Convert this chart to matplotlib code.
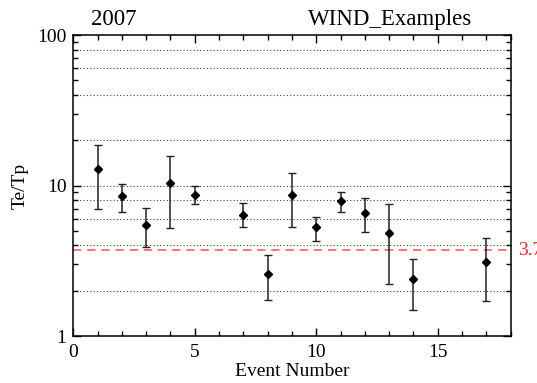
import matplotlib
matplotlib.use("Agg")
import matplotlib.pyplot as plt
from matplotlib.ticker import FixedLocator, NullFormatter, MultipleLocator

plt.rcParams['font.family'] = ['Liberation Serif', 'DejaVu Serif']

# Te/Tp по событиям: значение и границы погрешности
events = [1, 2, 3, 4, 5, 7, 8, 9, 10, 11, 12, 13, 14, 17]
ratio = [12.9, 8.5, 5.5, 10.4, 8.7, 6.4, 2.58, 8.7, 5.27, 7.9, 6.6, 4.86, 2.39, 3.12]
upper = [18.7, 10.3, 7.1, 15.7, 9.9, 7.6, 3.44, 12.1, 6.2, 9.1, 8.2, 7.5, 3.26, 4.5]
lower = [6.95, 6.7, 3.9, 5.2, 7.5, 5.3, 1.73, 5.3, 4.3, 6.7, 4.9, 2.2, 1.5, 1.7]

grid_levels = [2, 4, 6, 8, 10, 20, 40, 60, 80]
threshold = 3.7

fig = plt.figure(figsize=(5.37, 3.83), dpi=100)
ax = fig.add_axes([0.1365, 0.1227, 0.8145, 0.7859])

# пунктирная сетка на выбранных уровнях
for lvl in grid_levels:
    ax.axhline(lvl, color='#444444', linestyle=(0, (1, 2)), linewidth=0.8, zorder=1)

# пороговая линия и её подпись справа от оси
ax.axhline(threshold, color='#ff4040', linestyle=(0, (5, 3.5)), linewidth=1.2, alpha=0.85, zorder=2)
ax.text(18.3, threshold, f'{threshold:.1f}', color='#ff2020', fontsize=14,
        va='center', ha='left', clip_on=False)

yerr = [[r - lo for r, lo in zip(ratio, lower)], [up - r for r, up in zip(ratio, upper)]]
ax.errorbar(events, ratio, yerr=yerr, fmt='D', color='black', markersize=4.5,
            ecolor='#222222', elinewidth=1.1, capsize=3, capthick=1, zorder=3)

ax.set_yscale('log')
ax.set_ylim(1, 100)
ax.set_xlim(0, 18)
ax.set_yticks([1, 10, 100])
ax.set_yticklabels(['1', '10', '100'])
ax.yaxis.set_minor_locator(FixedLocator([m * d for d in (1, 10) for m in range(2, 10)]))
ax.yaxis.set_minor_formatter(NullFormatter())
ax.xaxis.set_major_locator(MultipleLocator(5))
ax.xaxis.set_minor_locator(MultipleLocator(1))

ax.tick_params(which='both', direction='in', top=True, right=True, labelsize=14, width=1)
ax.tick_params(which='major', length=6)
ax.tick_params(which='minor', length=3.5)
ax.tick_params(axis='x', pad=6)
ax.tick_params(axis='y', pad=5)
for s in ax.spines.values():
    s.set_linewidth(1.1)

ax.set_xlabel('Event Number', fontsize=14, labelpad=1)
ax.set_ylabel('Te/Tp', fontsize=14, labelpad=6)

fig.text(0.169, 0.935, '2007', fontsize=16.5)
fig.text(0.574, 0.935, 'WIND_Examples', fontsize=16.5)

fig.savefig('out.png', dpi=100)
